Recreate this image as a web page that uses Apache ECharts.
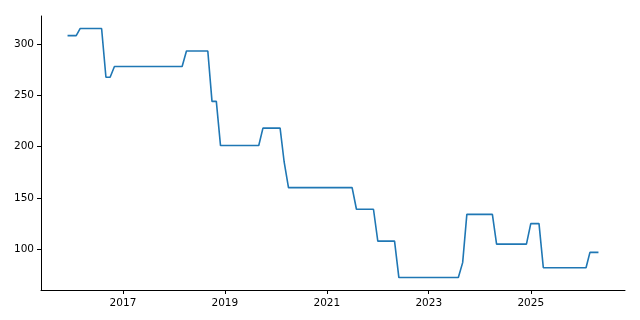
<!DOCTYPE html>
<html>
<head>
<meta charset="utf-8">
<script src="https://cdn.jsdelivr.net/npm/echarts@6/dist/echarts.min.js"></script>
<style>
html,body{margin:0;padding:0;background:#fff;}
#chart{width:640px;height:320px;}
</style>
</head>
<body>
<div id="chart"></div>
<script>
// Monthly observation dates
const months = [
  '2015-12',
  '2016-01','2016-02','2016-03','2016-04','2016-05','2016-06','2016-07','2016-08','2016-09','2016-10','2016-11','2016-12',
  '2017-01','2017-02','2017-03','2017-04','2017-05','2017-06','2017-07','2017-08','2017-09','2017-10','2017-11','2017-12',
  '2018-01','2018-02','2018-03','2018-04','2018-05','2018-06','2018-07','2018-08','2018-09','2018-10','2018-11','2018-12',
  '2019-01','2019-02','2019-03','2019-04','2019-05','2019-06','2019-07','2019-08','2019-09','2019-10','2019-11','2019-12',
  '2020-01','2020-02','2020-03','2020-04','2020-05','2020-06','2020-07','2020-08','2020-09','2020-10','2020-11','2020-12',
  '2021-01','2021-02','2021-03','2021-04','2021-05','2021-06','2021-07','2021-08','2021-09','2021-10','2021-11','2021-12',
  '2022-01','2022-02','2022-03','2022-04','2022-05','2022-06','2022-07','2022-08','2022-09','2022-10','2022-11','2022-12',
  '2023-01','2023-02','2023-03','2023-04','2023-05','2023-06','2023-07','2023-08','2023-09','2023-10','2023-11','2023-12',
  '2024-01','2024-02','2024-03','2024-04','2024-05','2024-06','2024-07','2024-08','2024-09','2024-10','2024-11','2024-12',
  '2025-01','2025-02','2025-03','2025-04','2025-05','2025-06','2025-07','2025-08','2025-09','2025-10','2025-11','2025-12',
  '2026-01','2026-02','2026-03','2026-04','2026-05'
];
// Series values
const values = [
  308,
  308,308,315,315,315,315,315,315,267.5,267.5,278,278,
  278,278,278,278,278,278,278,278,278,278,278,278,
  278,278,278,293,293,293,293,293,293,244,244,201,
  201,201,201,201,201,201,201,201,201,218,218,218,
  218,218,185,160,160,160,160,160,160,160,160,160,
  160,160,160,160,160,160,160,139,139,139,139,139,
  108,108,108,108,108,72.5,72.5,72.5,72.5,72.5,72.5,72.5,
  72.5,72.5,72.5,72.5,72.5,72.5,72.5,72.5,87,134,134,134,
  134,134,134,134,105,105,105,105,105,105,105,105,
  125,125,125,82,82,82,82,82,82,82,82,82,
  82,82,97,97,97
];
// Tick labels
const xTickYears = [2017, 2019, 2021, 2023, 2025];
const yTicks = [100, 150, 200, 250, 300];

const toTime = s => new Date(s + '-01T00:00:00').getTime();
const data = months.map((m, i) => [toTime(m), values[i]]);
const t0 = data[0][0], t1 = data[data.length - 1][0];
const pad = (t1 - t0) * 0.05;
const vMin = Math.min(...values), vMax = Math.max(...values);
const vPad = (vMax - vMin) * 0.05;
const xTickTimes = xTickYears.map(y => new Date(y, 0, 1).getTime());

const font = 'DejaVu Sans';
const chart = echarts.init(document.getElementById('chart'), null, {renderer: 'canvas'});
chart.setOption({
  animation: false,
  backgroundColor: '#ffffff',
  grid: {left: 41, right: 15, top: 16, bottom: 30, containLabel: false},
  xAxis: {
    type: 'value',
    min: t0 - pad,
    max: t1 + pad,
    scale: true,
    axisLine: {show: true, onZero: false, lineStyle: {color: '#000', width: 1}},
    axisTick: {show: true, length: 4, inside: false, customValues: xTickTimes, lineStyle: {color: '#000', width: 1}},
    axisLabel: {
      customValues: xTickTimes,
      formatter: v => String(new Date(v).getFullYear()),
      color: '#000', fontFamily: font, fontSize: 10.5, margin: 8
    },
    splitLine: {show: false}
  },
  yAxis: {
    type: 'value',
    min: vMin - vPad,
    max: vMax + vPad,
    scale: true,
    axisLine: {show: true, onZero: false, lineStyle: {color: '#000', width: 1}},
    axisTick: {show: true, length: 4, inside: false, customValues: yTicks, lineStyle: {color: '#000', width: 1}},
    axisLabel: {
      customValues: yTicks,
      color: '#000', fontFamily: font, fontSize: 10.5, margin: 7
    },
    splitLine: {show: false}
  },
  series: [{
    type: 'line',
    data: data,
    showSymbol: false,
    symbol: 'none',
    lineStyle: {color: '#1f77b4', width: 1.6},
    clip: true
  }]
});
</script>
</body>
</html>
